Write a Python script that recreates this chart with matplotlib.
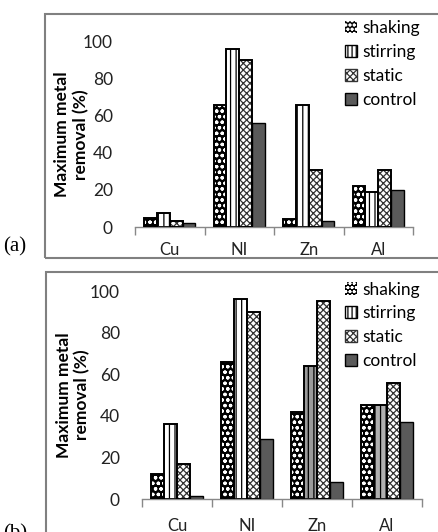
import numpy as np
import matplotlib
matplotlib.use('Agg')
import matplotlib.pyplot as plt
from matplotlib.patches import Rectangle

plt.rcParams['font.family'] = ['Lato', 'DejaVu Sans']
plt.rcParams['hatch.linewidth'] = 0.9

metals = ['Cu', 'NI', 'Zn', 'Al']
series = ['shaking', 'stirring', 'static', 'control']

# panel (a)
a_shaking = [5, 66, 4.5, 22]
a_stirring = [7.5, 96, 66, 19]
a_static = [3.5, 90, 31, 31]
a_control = [2, 56, 3.5, 20]

# panel (b)
b_shaking = [12, 66, 42, 45]
b_stirring = [36, 96, 64, 45]
b_static = [17, 90, 95, 56]
b_control = [1.5, 29, 8, 37]

W, H = 438, 532
fig = plt.figure(figsize=(W / 100, H / 100), dpi=100)


def px_axes(left, right, top, bottom):
    return fig.add_axes([left / W, 1 - bottom / H, (right - left) / W, (bottom - top) / H])


def draw_panel(ax, vals, stir_faces, label_x, xpad):
    x = np.arange(len(metals))
    w = 0.185
    offs = (np.arange(4) - 1.5) * w
    # shaking: black with white circles
    ax.bar(x + offs[0], vals[0], w, color='black', edgecolor='white', hatch='ooo', lw=0, zorder=2)
    ax.bar(x + offs[0], vals[0], w, fill=False, edgecolor='black', lw=1.4, zorder=3)
    # stirring: vertical lines
    ax.bar(x + offs[1], vals[1], w, color=stir_faces, edgecolor='black', hatch='|||', lw=1.4, zorder=2)
    # static: zigzag-ish
    ax.bar(x + offs[2], vals[2], w, color='white', edgecolor='#333333', hatch='xxxxx', lw=0, zorder=2)
    ax.bar(x + offs[2], vals[2], w, fill=False, edgecolor='black', lw=1.4, zorder=3)
    # control: dark grey
    ax.bar(x + offs[3], vals[3], w, color='#5a5a5a', edgecolor='black', lw=1.0, zorder=2)

    ax.set_xlim(-0.5, 3.5)
    ax.set_ylim(0, 100)
    ax.set_yticks([0, 20, 40, 60, 80, 100])
    ax.tick_params(axis='y', length=0, pad=16, labelsize=12.5, labelcolor='#222222')
    ax.set_xticks(x)
    ax.set_xticklabels(metals)
    ax.tick_params(axis='x', which='major', length=0, pad=xpad, labelsize=12, labelcolor='#222222')
    ax.set_xticks(np.arange(-0.5, 4, 1), minor=True)
    ax.tick_params(axis='x', which='minor', length=6, width=1, color='#888888', direction='out')
    for s in ['top', 'right', 'left']:
        ax.spines[s].set_visible(False)
    ax.spines['bottom'].set_color('#888888')
    ax.spines['bottom'].set_linewidth(1)
    ax.set_ylabel('Maximum metal\nremoval (%)', fontsize=12.5, fontweight='bold', linespacing=1.2)
    ax.yaxis.label.set_va('center')
    ax.yaxis.set_label_coords(label_x, 0.5)


# legend handles drawn as proxy rectangles
def add_legend(ax, loc_x, loc_y):
    handles = [
        Rectangle((0, 0), 1, 1, facecolor='black', edgecolor='white', hatch='oooo', lw=0),
        Rectangle((0, 0), 1, 1, facecolor='white', edgecolor='black', hatch='||||', lw=1),
        Rectangle((0, 0), 1, 1, facecolor='white', edgecolor='#333333', hatch='xxxxx', lw=1),
        Rectangle((0, 0), 1, 1, facecolor='#5a5a5a', edgecolor='black', lw=1),
    ]
    leg = ax.legend(handles, series, loc='upper left', bbox_to_anchor=(loc_x, loc_y), frameon=False,
                    fontsize=12.5, handlelength=0.7, handleheight=0.7, handletextpad=0.3,
                    labelspacing=0.45, borderaxespad=0, borderpad=0)
    return leg


# outer boxes
fig.patches.append(Rectangle((45 / W, 1 - 258 / H), 400 / W, 244 / H, transform=fig.transFigure,
                             fill=False, edgecolor='#808080', lw=1.5))
fig.patches.append(Rectangle((46 / W, 1 - 545 / H), 400 / W, 273 / H, transform=fig.transFigure,
                             fill=False, edgecolor='#808080', lw=1.5))

ax1 = px_axes(135, 413, 41.7, 227)
draw_panel(ax1, [a_shaking, a_stirring, a_static, a_control], 'white', -0.227, 11)
add_legend(ax1, 0.755, 1.115)

ax2 = px_axes(142, 422, 291, 499)
draw_panel(ax2, [b_shaking, b_stirring, b_static, b_control], ['white', 'white', '#9a9a9a', '#b0b0b0'],
           -0.246, 14)
add_legend(ax2, 0.725, 1.045)

fig.text(3 / W, 1 - 247 / H, '(a)', family='Liberation Serif', fontsize=15, va='center', ha='left')
fig.text(3 / W, 1 - 524 / H, '(b)', family='Liberation Serif', fontsize=15, va='top', ha='left')

fig.savefig('out.png', dpi=100)
